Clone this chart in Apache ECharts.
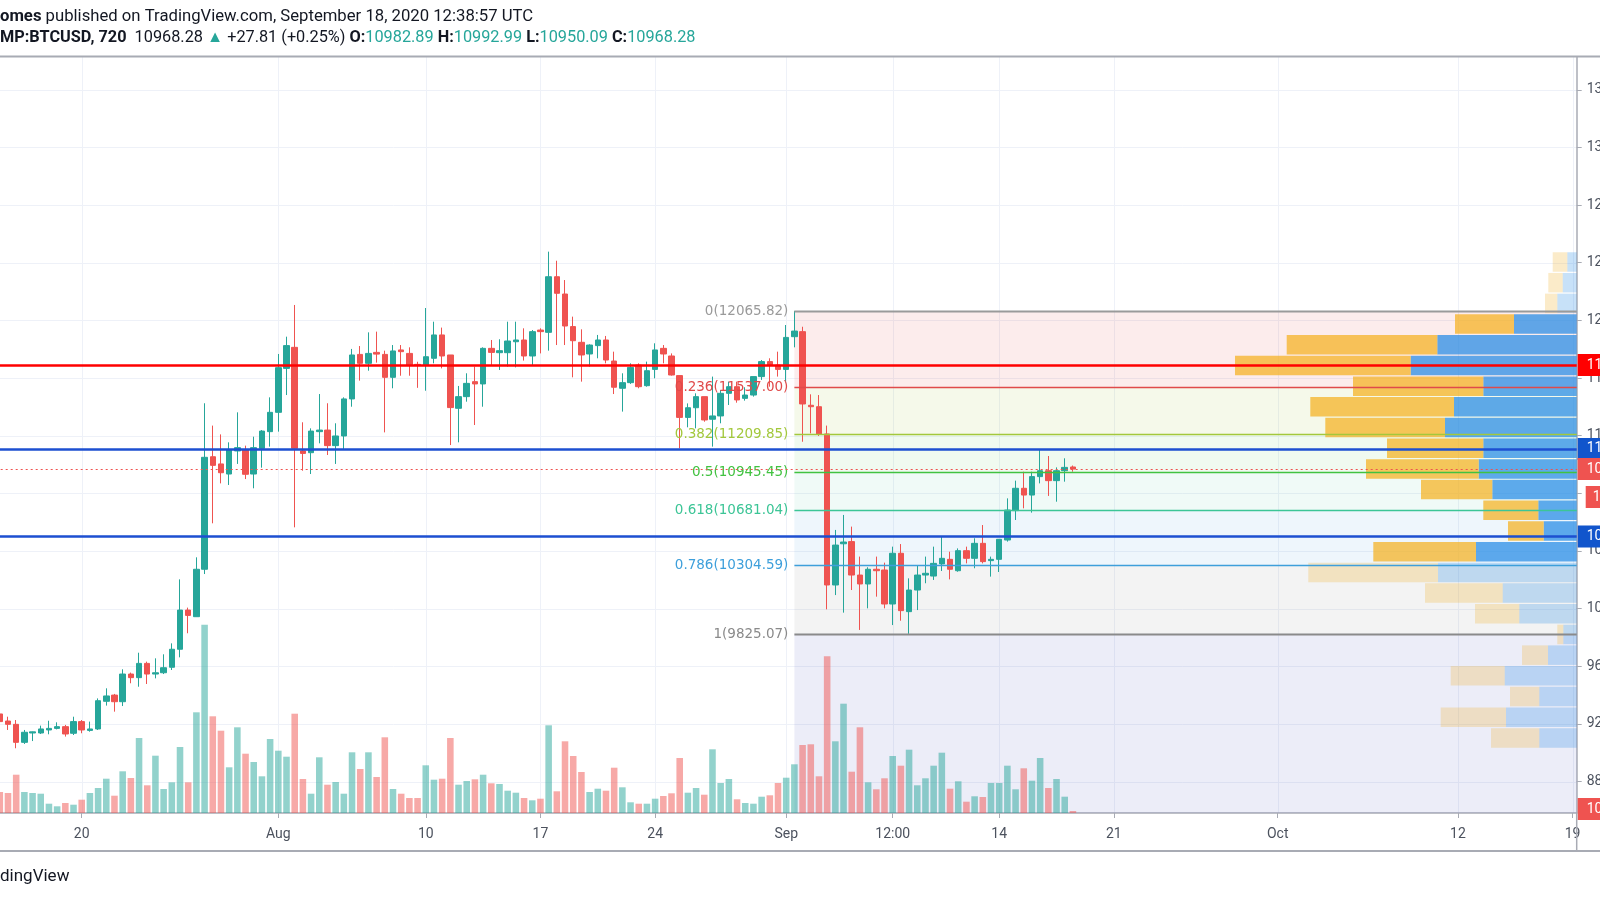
<!DOCTYPE html>
<html><head><meta charset="utf-8">
<script src="https://cdn.jsdelivr.net/npm/echarts@6/dist/echarts.min.js"></script>
<style>html,body{margin:0;padding:0;background:#fff;}#c{width:1600px;height:900px;}</style>
</head><body><div id="c"></div>
<script>
// ---------------- DATA ----------------
const rangeStart = '2020-07-15 00:00';
const rangeEnd = '2020-10-19 00:00';
const barHours = 12;
// [open, high, low, close] per 12h bar from rangeStart
const ohlc = [
[9269,9285,9204,9216],[9220,9250,9158,9197],[9197,9227,9031,9072],[9072,9158,9061,9142],[9137,9147,9081,9145],
[9137,9188,9130,9165],[9158,9222,9128,9169],[9169,9211,9162,9181],[9181,9193,9112,9130],[9135,9250,9123,9216],
[9216,9227,9135,9158],[9155,9216,9146,9165],[9165,9377,9158,9361],[9357,9447,9327,9394],[9400,9408,9285,9354],
[9354,9579,9324,9546],[9546,9556,9482,9521],[9521,9694,9458,9620],[9620,9632,9477,9546],[9546,9655,9516,9555],
[9555,9683,9546,9590],[9593,9759,9574,9718],[9718,10203,9662,9990],[9990,10007,9829,9953],[9944,10356,9944,10273],
[10273,11425,10240,11050],[11054,11270,10592,10994],[11004,11209,10869,10943],[10934,11154,10858,11101],[11094,11362,11004,11117],
[11101,11131,10899,10932],[10934,11193,10835,11117],[11112,11239,10978,11232],[11228,11466,11124,11362],[11362,11767,11228,11672],
[11667,11887,11482,11825],[11813,12107,10564,11112],[11094,11293,10957,11077],[11082,11251,10934,11232],[11228,11489,11147,11239],
[11239,11425,11066,11131],[11131,11286,11004,11198],[11198,11466,11108,11455],[11455,11802,11401,11760],[11764,11822,11582,11702],
[11702,11917,11651,11771],[11778,11922,11707,11766],[11764,11790,11223,11605],[11605,11829,11529,11788],[11795,11829,11616,11783],
[11771,11813,11616,11690],[11695,11713,11532,11688],[11690,12086,11512,11748],[11737,11991,11702,11899],[11899,11950,11667,11753],
[11760,11760,11135,11395],[11390,11545,11154,11471],[11471,11633,11436,11563],[11575,11679,11274,11559],[11559,11813,11401,11806],
[11806,11864,11691,11778],[11776,11869,11656,11790],[11776,11991,11679,11857],[11852,11991,11674,11864],[11864,11945,11721,11753],
[11753,11933,11690,11922],[11933,11945,11771,11922],[11917,12477,11790,12303],[12303,12414,11829,12188],[12183,12280,11829,11961],
[11957,12026,11605,11859],[11848,11938,11575,11760],[11767,11834,11679,11829],[11825,11899,11737,11864],[11864,11892,11702,11725],
[11718,11783,11489,11536],[11529,11633,11367,11568],[11568,11702,11559,11674],[11690,11702,11529,11540],[11547,11714,11540,11651],
[11660,11841,11598,11795],[11806,11829,11702,11767],[11753,11771,11617,11621],[11617,11617,11112,11327],[11327,11424,11258,11394],
[11394,11494,11251,11471],[11471,11471,11297,11309],[11314,11610,11124,11337],[11337,11517,11286,11494],[11494,11575,11413,11540],
[11540,11575,11429,11448],[11459,11536,11443,11482],[11482,11610,11471,11610],[11610,11725,11587,11714],[11714,11737,11540,11691],
[11690,11783,11610,11660],[11660,11968,11575,11882],[11887,12065.82,11813,11926],[11922,11956,11158,11420],[11411,11487,11216,11401],
[11401,11482,11198,11212],[11212,11270,9995,10164],[10164,10546,10094,10441],[10450,10650,9972,10462],[10465,10569,10129,10233],
[10233,10361,9852,10171],[10171,10287,10002,10273],[10273,10361,10083,10263],[10268,10319,10002,10032],[10032,10430,9886,10384],
[10384,10448,9916,9986],[9979,10210,9825.07,10129],[10129,10296,9990,10233],[10233,10361,10176,10245],[10226,10430,10199,10314],
[10310,10499,10261,10349],[10342,10395,10203,10273],[10263,10418,10256,10402],[10402,10430,10314,10349],[10349,10488,10280,10453],
[10453,10580,10314,10326],[10333,10361,10222,10342],[10342,10481,10254,10481],[10476,10765,10465,10684],[10680,10888,10615,10835],
[10835,10950,10696,10788],[10788,10950,10666,10916],[10916,11100,10869,10957],[10957,11059,10782,10888],[10888,10980,10742,10957],
[10957,11043,10881,10980],[10982.89,10992.99,10950.09,10968.28]
];
// volume per bar (relative units)
const volumes = [
21,20,38.3,21,20,19.3,9.3,6.7,10,8.3,13.3,20,25,34.3,17.3,41.7,35,75,27.7,57.3,
24,30.7,66,30.7,100.7,188.3,96.7,82.3,45.7,85.7,59.3,51,36.7,74,62.3,56.3,99.3,34,19.3,55.7,
28.3,31,19.3,60.7,44,60.7,36,75.7,24,19.3,15,15,47.7,33.3,34.3,75,28.3,32,33.7,38.3,
29.7,29,22.3,20.3,15,12.7,14.3,87.7,21.7,71.7,57,41,21,24.3,22.3,45.3,25.7,10.7,9.3,9.3,
14.3,17,19.7,55,20.3,25,18.3,63.7,30,34,13.7,10,9.3,16.3,17.7,30,35.3,48.7,68,68.7,
36.7,156.7,71.7,109.3,41.3,85.7,30.7,23.7,34.7,57,47.3,63.3,27.7,34.7,47.3,60.3,24.3,31.7,11.3,16.7,
16,30,30,47.3,23.7,44.7,32.3,55,25,34,16.3,2
];
const xTicks = [
['2020-07-20 00:00','20'],['2020-08-01 00:00','Aug'],['2020-08-10 00:00','10'],['2020-08-17 00:00','17'],
['2020-08-24 00:00','24'],['2020-09-01 00:00','Sep'],['2020-09-07 12:00','12:00'],['2020-09-14 00:00','14'],
['2020-09-21 00:00','21'],['2020-10-01 00:00','Oct'],['2020-10-12 00:00','12'],['2020-10-19 00:00','19']
];
const yTicks = [8800,9200,9600,10000,10400,10800,11200,11600,12000,12400,12800,13200,13600];
// Fibonacci retracement
const fibStartTime = '2020-09-01 12:00';
const fibHigh = 12065.82, fibLow = 9825.07;
const fibLevels = [0, 0.236, 0.382, 0.5, 0.618, 0.786, 1, 1.618];
// horizontal levels
const levelLines = [11690, 11108, 10500];
const lastPrice = 10968.28;
const countdown = '11:21:03';
const volumeTag = '10.04';
// visible range volume profile (24 rows, bottom -> top)
const vpUp   = [37.4,70.7,37.4,72,28.7,13.4,57.4,74,138.7,100.7,33,38.4,84.4,98,93.4,131.7,122.7,93.4,166,139.4,62.7,19.4,14,9.4];
const vpDown = [48.3,65.3,29.3,54,26,6,44.3,77.7,129.7,102.7,35.7,55,71.3,112.7,96.3,119.7,143.7,130.3,175.7,150.6,59,12.3,14.4,14.6];
const vpValueArea = [0,0,0,0,0,0,0,0,0,1,1,1,1,1,1,1,1,1,1,1,1,0,0,0];
const headerLine1 = ['omes', ' published on TradingView.com, September 18, 2020 12:38:57 UTC'];
const headerSymbol = 'MP:BTCUSD, 720';
const headerPrice = '10968.28';
const headerChange = '+27.81 (+0.25%)';
const headerOHLC = [['O:','10982.89'],['H:','10992.99'],['L:','10950.09'],['C:','10968.28']];
const footerText = 'dingView';

// ---------------- BUILD ----------------
const pad = n => String(n).padStart(2,'0');
const fmt = d => d.getUTCFullYear()+'-'+pad(d.getUTCMonth()+1)+'-'+pad(d.getUTCDate())+' '+pad(d.getUTCHours())+':00';
const parseT = s => Date.UTC(+s.slice(0,4), +s.slice(5,7)-1, +s.slice(8,10), +s.slice(11,13));
const categories = [];
for (let t = parseT(rangeStart); t <= parseT(rangeEnd); t += barHours*3600e3) categories.push(fmt(new Date(t)));
const tickMap = {}; xTicks.forEach(([c,l]) => tickMap[c] = l);
const tickIdx = xTicks.map(([c]) => categories.indexOf(c));
const tickFn = (i, v) => tickMap[v] !== undefined;

const UP = '#26a69a', DOWN = '#ef5350';
const candleData = ohlc.map(([o,h,l,c]) => [o,c,l,h]);
const volData = volumes.map((v,i) => ({value: v, itemStyle: {color: ohlc[i][3] >= ohlc[i][0] ? 'rgba(38,166,154,0.5)' : 'rgba(239,83,80,0.5)'}}));

const fibPrice = lv => fibHigh - lv*(fibHigh - fibLow);
const fibStartIdx = categories.indexOf(fibStartTime);
const fibLineColors = ['#9a9a9a','#e04a4a','#a3c83c','#41c241','#3cc596','#3d9fdb','#8a8a8a','#5b6bc8'];
const fibBandColors = ['rgba(232,80,80,0.11)','rgba(163,200,60,0.11)','rgba(65,194,65,0.08)','rgba(60,197,150,0.08)','rgba(61,159,219,0.09)','rgba(138,138,138,0.1)','rgba(70,80,190,0.1)'];
const fmt2 = p => (Math.round(p*100 + 1e-6)/100).toFixed(2);

let vpLow = Infinity, vpHigh = -Infinity;
ohlc.forEach(r => { vpLow = Math.min(vpLow, r[2]); vpHigh = Math.max(vpHigh, r[1]); });
const vpStep = (vpHigh - vpLow) / vpUp.length;

const FONT = 'Roboto, "Liberation Sans", sans-serif';
const AX = '#a8abb4', LBL = '#4c525e';
const HIDDEN_LINE = {color: 'rgba(0,0,0,0)', width: 1, type: 'solid'};

const boxLabel = (text, bg, extra) => Object.assign({
  show: true, position: 'end', distance: 1, formatter: text, backgroundColor: bg, color: '#fff',
  padding: [4, 6, 3, 9], fontSize: 14, fontFamily: FONT, lineHeight: 15, opacity: 1
}, extra || {});

const chart = echarts.init(document.getElementById('c'), null, {renderer: 'canvas'});
const option = {
  animation: false,
  backgroundColor: '#ffffff',
  grid: [
    {left: -4.3, right: 23.3, top: 57, bottom: 87, containLabel: false, outerBoundsMode: 'none'},
    {left: -4.3, right: 23.3, top: 513, bottom: 87, containLabel: false, outerBoundsMode: 'none'}
  ],
  xAxis: [
    {type: 'category', gridIndex: 0, data: categories, boundaryGap: true, show: false},
    {type: 'category', gridIndex: 1, data: categories, boundaryGap: true,
     axisLine: {show: true, lineStyle: {color: AX, width: 1.5}},
     axisTick: {show: true, alignWithLabel: true, interval: tickFn, length: 5, lineStyle: {color: AX}},
     axisLabel: {interval: tickFn, formatter: v => tickMap[v] || '', color: LBL, fontSize: 14, fontFamily: FONT, margin: 14, hideOverlap: false},
     splitLine: {show: false}},
    {type: 'value', gridIndex: 0, inverse: true, min: 0, max: 1581, show: false}
  ],
  yAxis: [
    {type: 'value', gridIndex: 0, position: 'right', min: 8581.8, max: 13827.7,
     axisLine: {show: true, lineStyle: {color: AX, width: 1.5}},
     axisTick: {show: true, customValues: yTicks, length: 5, lineStyle: {color: AX}},
     axisLabel: {customValues: yTicks, formatter: v => Number(v).toFixed(2), color: LBL, fontSize: 14, fontFamily: FONT, margin: 10},
     splitLine: {show: false}},
    {type: 'value', gridIndex: 1, min: 0, max: 300, show: false}
  ],
  series: [
    { // vertical grid lines
      type: 'custom', xAxisIndex: 0, yAxisIndex: 0, z: 0, silent: true,
      data: tickIdx.map(i => [i, yTicks[0]]),
      renderItem(params, api) {
        const cs = params.coordSys;
        const x = Math.round(api.coord([api.value(0), api.value(1)])[0]) + 0.5;
        return {type: 'line', shape: {x1: x, y1: cs.y, x2: x, y2: cs.y + cs.height}, style: {stroke: '#eef1f8', lineWidth: 1}};
      }
    },
    { // horizontal grid lines
      type: 'custom', xAxisIndex: 0, yAxisIndex: 0, z: 0, silent: true,
      data: yTicks.map(p => [0, p]),
      renderItem(params, api) {
        const cs = params.coordSys;
        const y = Math.round(api.coord([0, api.value(1)])[1]) + 0.5;
        return {type: 'line', shape: {x1: cs.x, y1: y, x2: cs.x + cs.width, y2: y}, style: {stroke: '#eef1f8', lineWidth: 1}};
      }
    },
    { // fib bands
      type: 'custom', xAxisIndex: 0, yAxisIndex: 0, z: 1, silent: true,
      data: fibLevels.slice(0, -1).map((lv, k) => [k, lv]),
      renderItem(params, api) {
        const k = api.value(0);
        const cs = params.coordSys;
        const a = api.coord([fibStartIdx, fibPrice(fibLevels[k])]);
        const b = api.coord([fibStartIdx, fibPrice(fibLevels[k+1])]);
        const r = echarts.graphic.clipRectByRect({x: a[0], y: a[1], width: cs.x + cs.width - a[0], height: b[1] - a[1]},
          {x: cs.x, y: cs.y, width: cs.width, height: cs.height});
        return r ? {type: 'rect', shape: r, style: {fill: fibBandColors[k]}} : null;
      }
    },
    { // volume
      type: 'bar', xAxisIndex: 1, yAxisIndex: 1, z: 2, silent: true, barWidth: '80%',
      data: volData,
      markLine: {silent: true, symbol: ['none','none'], animation: false,
        data: [{yAxis: volumes[volumes.length-1], lineStyle: HIDDEN_LINE, label: boxLabel(volumeTag, DOWN, {offset: [0, -2]})}]}
    },
    { // volume profile
      type: 'custom', xAxisIndex: 2, yAxisIndex: 0, z: 2, silent: true,
      data: vpUp.map((u, b) => [b, 0]),
      renderItem(params, api) {
        const b = api.value(0);
        const lo = vpLow + b*vpStep, hi = lo + vpStep;
        const pR = api.coord([0, lo]);
        const yTop = api.coord([0, hi])[1] + 0.6, yBot = pR[1] - 0.6;
        const xR = pR[0];
        const xU = api.coord([vpUp[b], lo])[0];
        const xD = api.coord([vpUp[b] + vpDown[b], lo])[0];
        const va = vpValueArea[b];
        return {type: 'group', children: [
          {type: 'rect', shape: {x: xU, y: yTop, width: xR - xU, height: yBot - yTop}, style: {fill: va ? 'rgba(30,136,229,0.7)' : 'rgba(30,136,229,0.25)'}},
          {type: 'rect', shape: {x: xD, y: yTop, width: xU - xD, height: yBot - yTop}, style: {fill: va ? 'rgba(245,175,25,0.7)' : 'rgba(240,175,40,0.25)'}}
        ]};
      }
    },
    { // candles
      type: 'candlestick', xAxisIndex: 0, yAxisIndex: 0, z: 3, silent: true, barWidth: 6,
      data: candleData,
      itemStyle: {color: UP, color0: DOWN, borderColor: UP, borderColor0: DOWN, borderWidth: 1},
      markLine: {silent: true, symbol: ['none','none'], animation: false,
        data: [
          {yAxis: levelLines[0], lineStyle: {color: '#ff0000', width: 2.5, type: 'solid'}, label: boxLabel(levelLines[0].toFixed(2), '#ff0000')},
          {yAxis: levelLines[1], lineStyle: {color: '#1d4fd1', width: 2.5, type: 'solid'}, label: boxLabel(levelLines[1].toFixed(2), '#1155cc')},
          {yAxis: levelLines[2], lineStyle: {color: '#1d4fd1', width: 2.5, type: 'solid'}, label: boxLabel(levelLines[2].toFixed(2), '#1155cc')},
          {yAxis: lastPrice, lineStyle: HIDDEN_LINE, label: boxLabel(countdown, DOWN, {distance: 9, offset: [0, 28], padding: [4, 6, 3, 7]})},
          {yAxis: lastPrice, lineStyle: {color: DOWN, width: 1, type: [2, 3]}, label: boxLabel(lastPrice.toFixed(2), DOWN)}
        ]}
    },
    { // fib lines + labels
      type: 'custom', xAxisIndex: 0, yAxisIndex: 0, z: 4, silent: true,
      data: fibLevels.map((lv, k) => [k, lv]),
      renderItem(params, api) {
        const k = api.value(0);
        const cs = params.coordSys;
        const p = fibPrice(fibLevels[k]);
        const a = api.coord([fibStartIdx, p]);
        if (a[1] < cs.y || a[1] > cs.y + cs.height) return null;
        const y = Math.round(a[1]) + 0.5;
        const txt = String(fibLevels[k]) + '(' + fmt2(p) + ')';
        return {type: 'group', children: [
          {type: 'line', shape: {x1: a[0], y1: y, x2: cs.x + cs.width, y2: y}, style: {stroke: fibLineColors[k], lineWidth: (k === 0 || k === 6) ? 2 : 1.5}},
          {type: 'text', style: {text: txt, x: a[0] - 6, y: y, fill: fibLineColors[k], font: '13.5px "DejaVu Sans"',
            align: 'right', verticalAlign: 'middle', textAlign: 'right', textVerticalAlign: 'middle'}}
        ]};
      }
    }
  ],
  graphic: [
    {type: 'line', z: 10, silent: true, shape: {x1: 0, y1: 56.5, x2: 1600, y2: 56.5}, style: {stroke: AX, lineWidth: 2}},
    {type: 'line', z: 10, silent: true, shape: {x1: 0, y1: 851, x2: 1600, y2: 851}, style: {stroke: AX, lineWidth: 2}},
    {type: 'line', z: 10, silent: true, shape: {x1: 1576.7, y1: 813, x2: 1576.7, y2: 851}, style: {stroke: AX, lineWidth: 1.5}},
    {type: 'text', z: 10, silent: true, left: 0, top: 8,
      style: {text: '{b|' + headerLine1[0] + '}' + headerLine1[1], font: '16.7px ' + FONT, fill: '#131722',
        rich: {b: {fontWeight: 'bold', fontSize: 16.7, fontFamily: FONT, fill: '#131722'}}}},
    {type: 'text', z: 10, silent: true, left: 0, top: 30,
      style: {text: '{b|' + headerSymbol + '}  ' + headerPrice + ' {t|▲} ' + headerChange + ' ' +
          headerOHLC.map(([k, v]) => '{b|' + k + '}{t|' + v + '}').join(' '),
        font: '16.3px ' + FONT, fill: '#131722',
        rich: {b: {fontWeight: 'bold', fontSize: 16.3, fontFamily: FONT, fill: '#131722'},
               t: {fontSize: 16.3, fontFamily: FONT, fill: UP}}}},
    {type: 'text', z: 10, silent: true, left: 0, top: 868,
      style: {text: footerText, font: '17px ' + FONT, fill: '#131722'}}
  ]
};
chart.setOption(option);
</script>
</body></html>
